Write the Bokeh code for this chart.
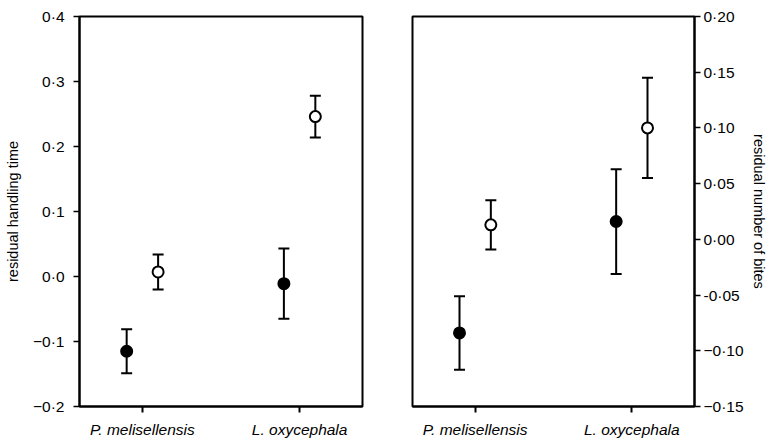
from bokeh.plotting import figure
from bokeh.layouts import row
from bokeh.models import ColumnDataSource, Range1d, FixedTicker, Whisker, TeeHead
from bokeh.embed import file_html
from bokeh.resources import INLINE

# ---- data ----
categories = ["P. melisellensis", "L. oxycephala"]
cat_pos = [1, 2]
group_offset = 0.1  # filled left, open right

handling_filled = [-0.115, -0.011]
handling_filled_err = [0.034, 0.054]
handling_open = [0.007, 0.246]
handling_open_err = [0.027, 0.032]

bites_filled = [-0.084, 0.016]
bites_filled_err = [0.033, 0.047]
bites_open = [0.013, 0.100]
bites_open_err = [0.022, 0.045]

left_ticks = [-0.2, -0.1, 0.0, 0.1, 0.2, 0.3, 0.4]
left_tick_labels = ["\u22120\u00b72", "\u22120\u00b71", "0\u00b70", "0\u00b71", "0\u00b72", "0\u00b73", "0\u00b74"]
right_ticks = [-0.15, -0.10, -0.05, 0.0, 0.05, 0.10, 0.15, 0.20]
right_tick_labels = ["\u22120\u00b715", "\u22120\u00b710", "-0\u00b705", "0\u00b700",
                     "0\u00b705", "0\u00b710", "0\u00b715", "0\u00b720"]

FONT = "Liberation Sans"


def make_source(vals, errs, offset):
    xs = [c + offset for c in cat_pos]
    return ColumnDataSource(dict(
        x=xs, y=vals,
        upper=[v + e for v, e in zip(vals, errs)],
        lower=[v - e for v, e in zip(vals, errs)],
    ))


def style(p, ylabel, ticks, labels, yside):
    p.outline_line_color = "black"
    p.outline_line_width = 2
    p.outline_line_alpha = 1
    p.xgrid.visible = False
    p.ygrid.visible = False
    p.background_fill_color = "white"
    p.border_fill_color = "white"

    xa = p.xaxis[0]
    xa.ticker = FixedTicker(ticks=cat_pos)
    xa.major_label_overrides = {c: n for c, n in zip(cat_pos, categories)}
    xa.major_label_text_font = FONT
    xa.major_label_text_font_style = "italic"
    xa.major_label_text_font_size = "15.5px"
    xa.major_label_text_color = "black"
    xa.major_tick_out = 6
    xa.major_tick_in = 0
    xa.minor_tick_line_color = None
    xa.axis_line_width = 2
    xa.major_tick_line_width = 2
    xa.major_label_standoff = 8

    ya = p.yaxis[0]
    ya.ticker = FixedTicker(ticks=ticks)
    ya.major_label_overrides = {t: l for t, l in zip(ticks, labels)}
    ya.major_label_text_font = FONT
    ya.major_label_text_font_size = "15.5px"
    ya.major_label_text_color = "black"
    ya.major_tick_out = 6
    ya.major_tick_in = 0
    ya.minor_tick_line_color = None
    ya.axis_line_width = 2
    ya.major_tick_line_width = 1.5
    ya.axis_label = ylabel
    ya.axis_label_text_font = FONT
    ya.axis_label_text_font_style = "normal"
    ya.axis_label_text_font_size = "14.5px"
    ya.axis_label_text_color = "black"
    if yside == "left":
        ya.major_label_standoff = 9
        ya.axis_label_standoff = 9
    else:
        ya.major_label_standoff = 3
        ya.axis_label_standoff = 4


def add_series(p, filled_vals, filled_errs, open_vals, open_errs):
    for vals, errs, off, fill in [(filled_vals, filled_errs, -group_offset, "black"),
                                  (open_vals, open_errs, group_offset, "white")]:
        src = make_source(vals, errs, off)
        w = Whisker(base="x", upper="upper", lower="lower", source=src,
                    line_width=2, line_color="black",
                    upper_head=TeeHead(size=11, line_width=2, line_color="black"),
                    lower_head=TeeHead(size=11, line_width=2, line_color="black"))
        p.add_layout(w)
        p.scatter("x", "y", source=src, size=11, fill_color=fill,
                  line_color="black", line_width=2)


left = figure(frame_width=283, frame_height=390, output_backend="svg", toolbar_location=None,
              x_range=Range1d(0.6, 2.4), y_range=Range1d(-0.2, 0.4),
              min_border_left=79, min_border_right=25, min_border_top=16, min_border_bottom=32)
style(left, "residual handling time", left_ticks, left_tick_labels, "left")
add_series(left, handling_filled, handling_filled_err, handling_open, handling_open_err)

right = figure(frame_width=282, frame_height=390, output_backend="svg", toolbar_location=None,
               x_range=Range1d(0.6, 2.4), y_range=Range1d(-0.15, 0.20),
               y_axis_location="right",
               min_border_left=25, min_border_right=76, min_border_top=16, min_border_bottom=32)
style(right, "residual number of bites", right_ticks, right_tick_labels, "right")
add_series(right, bites_filled, bites_filled_err, bites_open, bites_open_err)

layout = row(left, right)
open("out.html", "w").write(file_html(layout, INLINE))
